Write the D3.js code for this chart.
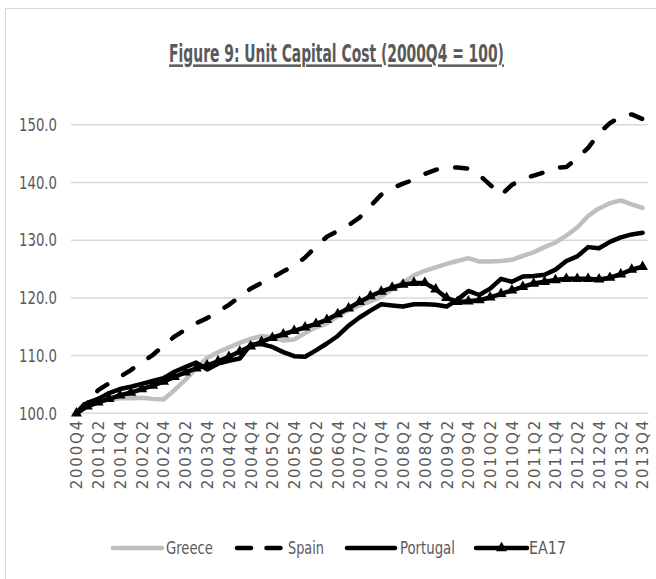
<!DOCTYPE html>
<html>
<head>
<meta charset="utf-8">
<script src="https://cdn.jsdelivr.net/npm/d3@7"></script>
<style>
  body { margin: 0; background: #fff; }
  svg { display: block; }
</style>
</head>
<body>
<div id="chart"></div>
<script>
var quarters = [
  '2000Q4',
  '2001Q1', '2001Q2', '2001Q3', '2001Q4',
  '2002Q1', '2002Q2', '2002Q3', '2002Q4',
  '2003Q1', '2003Q2', '2003Q3', '2003Q4',
  '2004Q1', '2004Q2', '2004Q3', '2004Q4',
  '2005Q1', '2005Q2', '2005Q3', '2005Q4',
  '2006Q1', '2006Q2', '2006Q3', '2006Q4',
  '2007Q1', '2007Q2', '2007Q3', '2007Q4',
  '2008Q1', '2008Q2', '2008Q3', '2008Q4',
  '2009Q1', '2009Q2', '2009Q3', '2009Q4',
  '2010Q1', '2010Q2', '2010Q3', '2010Q4',
  '2011Q1', '2011Q2', '2011Q3', '2011Q4',
  '2012Q1', '2012Q2', '2012Q3', '2012Q4',
  '2013Q1', '2013Q2', '2013Q3', '2013Q4'
];

var greece = [100, 101.3, 102.0, 102.4, 102.6, 102.6, 102.7, 102.5, 102.4, 104.0,
  105.8, 107.8, 109.6, 110.6, 111.4, 112.2, 112.9, 113.4, 113.2, 112.6,
  112.8, 113.9, 114.9, 115.6, 116.8, 117.9, 118.7, 119.4, 120.2, 121.5,
  122.7, 123.9, 124.7, 125.3, 125.9, 126.4, 126.9, 126.3, 126.3, 126.4,
  126.6, 127.3, 127.9, 128.8, 129.6, 130.8, 132.2, 134.2, 135.5, 136.4,
  136.9, 136.2, 135.6];

var spain = [100, 102.2, 104.0, 105.2, 106.3, 107.5, 108.8, 110.1, 111.7, 113.3,
  114.5, 115.6, 116.5, 117.6, 118.8, 120.2, 121.6, 122.6, 123.5, 124.6,
  125.6, 127.0, 128.9, 130.6, 131.6, 132.6, 133.9, 135.9, 137.9, 139.0,
  139.8, 140.5, 141.5, 142.2, 142.5, 142.6, 142.4, 141.3, 139.6, 137.8,
  139.6, 140.6, 141.2, 141.8, 142.5, 142.7, 144.2, 146.0, 148.5, 150.3,
  151.4, 151.8, 151.0];

var portugal = [100, 101.8, 102.5, 103.5, 104.2, 104.6, 105.1, 105.6, 106.1, 107.2,
  108.0, 108.8, 107.6, 108.6, 109.1, 109.5, 111.9, 112.0, 111.5, 110.6,
  109.9, 109.8, 110.9, 112.1, 113.4, 115.2, 116.6, 117.8, 118.9, 118.7,
  118.5, 118.9, 118.9, 118.8, 118.5, 119.7, 121.2, 120.5, 121.6, 123.3,
  122.8, 123.7, 123.8, 124.0, 124.9, 126.4, 127.2, 128.8, 128.6, 129.7,
  130.5, 131.0, 131.3];

var ea17 = [100, 101.2, 101.9, 102.5, 103.1, 103.6, 104.2, 104.8, 105.5, 106.3,
  107.1, 107.8, 108.3, 109.0, 109.8, 110.7, 111.6, 112.4, 113.1, 113.7,
  114.3, 114.9, 115.5, 116.2, 117.2, 118.2, 119.3, 120.3, 121.1, 121.8,
  122.3, 122.6, 122.6, 121.5, 120.0, 119.3, 119.4, 119.6, 120.1, 120.7,
  121.3, 121.9, 122.5, 122.8, 123.1, 123.3, 123.3, 123.3, 123.2, 123.5,
  124.1, 124.9, 125.4];

var yTicks = [100, 110, 120, 130, 140, 150];

var series = [
  { name: 'Greece', values: greece, color: '#bfbfbf', dash: null, marker: false },
  { name: 'Spain', values: spain, color: '#000', dash: '12 18.5', marker: false },
  { name: 'Portugal', values: portugal, color: '#000', dash: null, marker: false },
  { name: 'EA17', values: ea17, color: '#000', dash: null, marker: true }
];

var width = 656, height = 579;
var textColor = '#595959';
var narrow = '"Liberation Sans Narrow", "DejaVu Sans Condensed", "Liberation Sans", sans-serif';

// squeeze a text node horizontally to a target width (the original font is very condensed)
function squeeze(node, target, ox, oy) {
  var w = node.getComputedTextLength();
  var s = w > 0 ? target / w : 1;
  d3.select(node).attr('transform', `translate(${ox},${oy}) scale(${s},1)`);
}

var svg = d3.select('#chart')
  .append('svg')
  .attr('width', width)
  .attr('height', height);

// chart frame
svg.append('rect')
  .attr('x', 5.5)
  .attr('y', 8.5)
  .attr('width', 700)
  .attr('height', 700)
  .attr('fill', '#fff')
  .attr('stroke', '#d9d9d9')
  .attr('stroke-width', 1);

var x = d3.scalePoint()
  .domain(quarters)
  .range([71, 648])
  .padding(0.5);

var y = d3.scaleLinear()
  .domain([100, 150])
  .range([413.3, 124.8]);

// title
var title = svg.append('text')
  .attr('x', 0)
  .attr('y', 0)
  .attr('text-anchor', 'middle')
  .style('font-family', narrow)
  .style('font-weight', 'bold')
  .style('font-size', '25px')
  .style('text-decoration', 'underline')
  .attr('fill', textColor)
  .text('Figure 9: Unit Capital Cost (2000Q4 = 100)');
squeeze(title.node(), 335, 336.5, 62);

// gridlines
svg.append('g')
  .selectAll('line')
  .data(yTicks)
  .join('line')
  .attr('x1', 71)
  .attr('x2', 648)
  .attr('y1', d => y(d))
  .attr('y2', d => y(d))
  .attr('stroke', '#d9d9d9')
  .attr('stroke-width', 1.5);

// y axis labels
var yAxis = svg.append('g')
  .attr('transform', 'translate(57,0)')
  .call(d3.axisLeft(y).tickValues(yTicks).tickFormat(d3.format('.1f')).tickSize(0).tickPadding(0));
yAxis.select('.domain').remove();
yAxis.selectAll('text')
  .attr('x', 0)
  .style('font-family', narrow)
  .style('font-size', '18px')
  .attr('fill', textColor)
  .each(function () { squeeze(this, 38, 0, 0); });

// x axis labels, every other quarter
var xAxis = svg.append('g')
  .attr('transform', 'translate(0,419)')
  .call(d3.axisBottom(x)
    .tickValues(quarters.filter((q, i) => i % 2 === 0))
    .tickSize(0)
    .tickPadding(0));
xAxis.select('.domain').remove();
xAxis.selectAll('text')
  .attr('transform', 'rotate(-90)')
  .attr('text-anchor', 'end')
  .attr('x', 0)
  .attr('y', 0)
  .attr('dy', '0.36em')
  .style('font-family', '"DejaVu Sans", sans-serif')
  .style('font-size', '15px')
  .style('letter-spacing', '1.8px')
  .attr('fill', textColor);

var line = d3.line()
  .x((d, i) => x(quarters[i]))
  .y(d => y(d));

var tri = d3.symbol().type(d3.symbolTriangle).size(52);

series.forEach(s => {
  svg.append('path')
    .datum(s.values)
    .attr('d', line)
    .attr('fill', 'none')
    .attr('stroke', s.color)
    .attr('stroke-width', 4.5)
    .attr('stroke-linejoin', 'round')
    .attr('stroke-linecap', 'round')
    .attr('stroke-dasharray', s.dash);

  if (s.marker) {
    svg.append('g')
      .selectAll('path')
      .data(s.values)
      .join('path')
      .attr('d', tri)
      .attr('transform', (d, i) => `translate(${x(quarters[i])},${y(d)})`)
      .attr('fill', '#000');
  }
});

// legend
var legendItems = [
  { x1: 113, x2: 162, tx: 166, tw: 47 },
  { x1: 237, x2: 284, tx: 288, tw: 36 },
  { x1: 347, x2: 395, tx: 400, tw: 55 },
  { x1: 476, x2: 527, tx: 529, tw: 37 }
];
var ly = 548;

var legend = svg.append('g');
series.forEach((s, i) => {
  var it = legendItems[i];
  legend.append('line')
    .attr('x1', it.x1)
    .attr('x2', it.x2)
    .attr('y1', ly)
    .attr('y2', ly)
    .attr('stroke', s.color)
    .attr('stroke-width', 4.5)
    .attr('stroke-linecap', 'round')
    .attr('stroke-dasharray', s.dash ? '14 15.5' : null);
  if (s.marker) {
    legend.append('path')
      .attr('d', tri)
      .attr('transform', `translate(${(it.x1 + it.x2) / 2},${ly})`)
      .attr('fill', '#000');
  }
  var t = legend.append('text')
    .attr('x', 0)
    .attr('y', 0)
    .attr('dy', '0.35em')
    .style('font-family', narrow)
    .style('font-size', '18px')
    .attr('fill', textColor)
    .text(s.name);
  squeeze(t.node(), it.tw, it.tx, ly);
});
</script>
</body>
</html>
